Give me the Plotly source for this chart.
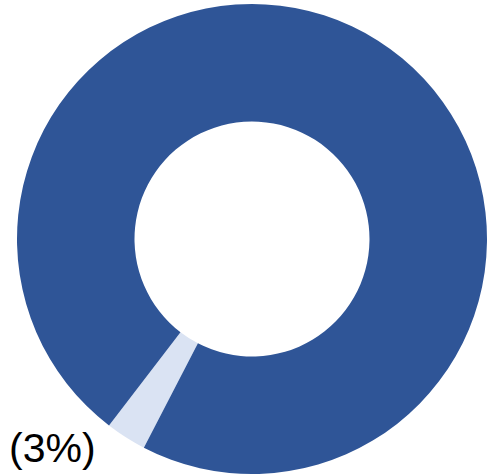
import plotly.graph_objects as go

labels = ["Minor", "Major"]
values = [2.8, 97.2]
colors = ["#DAE3F3", "#2F5597"]
label_text = "(3%)"

W, H = 490, 475
cx, cy, r = 252, 239, 235

fig = go.Figure(go.Pie(
    labels=labels,
    values=values,
    hole=0.5,
    sort=False,
    direction="clockwise",
    rotation=207.4,
    marker=dict(colors=colors, line=dict(width=0)),
    textinfo="none",
    hoverinfo="label+percent",
    showlegend=False,
    domain=dict(x=[(cx - r) / W, (cx + r) / W],
                y=[(H - cy - r) / H, (H - cy + r) / H]),
))

fig.add_annotation(
    text=label_text, xref="paper", yref="paper",
    x=52.5 / W, y=(H - 448) / H, xanchor="center", yanchor="middle",
    showarrow=False, font=dict(family="Arial, Liberation Sans", size=41, color="#000000"),
)

fig.update_layout(
    width=W, height=H,
    margin=dict(l=0, r=0, t=0, b=0),
    paper_bgcolor="white", plot_bgcolor="white",
)

fig.write_html("out.html", config={"displayModeBar": False},
               post_script="document.body.style.margin='0';")
